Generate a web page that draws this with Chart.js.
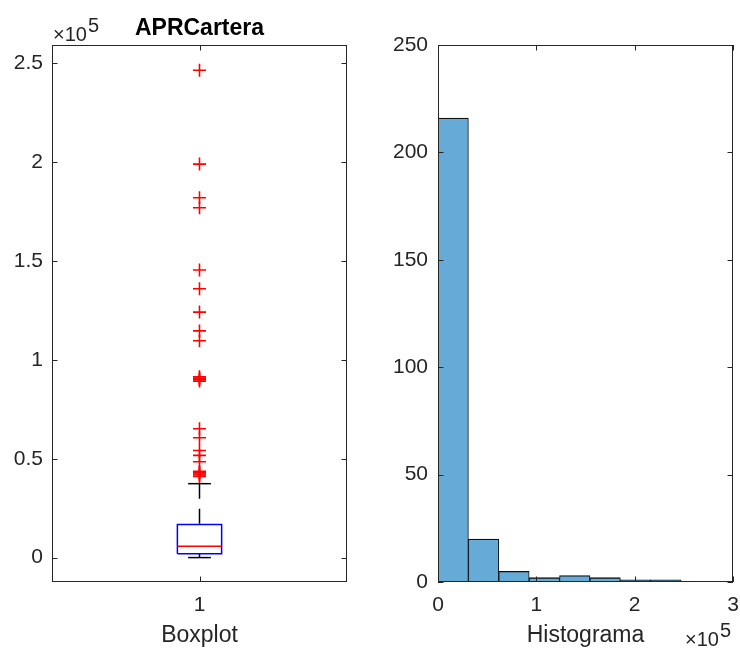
<!DOCTYPE html>
<html>
<head>
<meta charset="utf-8">
<title>APRCartera</title>
<script src="https://cdn.jsdelivr.net/npm/chart.js@4.4.1/dist/chart.umd.min.js"></script>
<style>
  body { margin: 0; background: #fff; }
  #wrap { position: relative; width: 740px; height: 649px; }
  .pane { position: absolute; top: 0; width: 370px; height: 649px; }
</style>
</head>
<body>
<div id="wrap">
  <div class="pane" style="left:0"><canvas id="boxChart" width="370" height="649"></canvas></div>
  <div class="pane" style="left:370px"><canvas id="histChart" width="370" height="649"></canvas></div>
</div>
<script>
// APRCartera boxplot summary
const boxPosition = 1;
const boxQuartiles = [1900, 5700, 16800];   // Q1, median, Q3
const boxWhiskers = [0, 37400];            // lower, upper whisker ends
const boxOutliers = [
  41000, 41800, 42300, 42900, 43600, 48500, 51700, 54200, 60600, 65200,
  89300, 90000, 90800, 91500, 109700, 114700, 124200, 136000, 145500,
  177000, 182100, 199100, 246600
];

// APRCartera histogram
const binEdges = [0, 30900, 61800, 92700, 123600, 154500, 185400, 216300, 247200];
const binCounts = [216, 20, 5, 2, 3, 2, 1, 1];

// axis ticks
const boxYTicks = [0, 50000, 100000, 150000, 200000, 250000];
const histYTicks = [0, 50, 100, 150, 200, 250];
const histXTicks = [0, 100000, 200000, 300000];

const FONT = '"Liberation Sans", Arial, Helvetica, sans-serif';
const INK = '#262626';
const tickFont = { family: FONT, size: 21 };
const labelFont = { family: FONT, size: 23 };

const boxHalfWidth = 0.075;
const capHalfWidth = 0.0385;

// MATLAB-style frame: box around the axes, ticks pointing inward on all four sides,
// and the "x10^5" exponent label
const axesFrame = {
  id: 'axesFrame',
  afterDatasetsDraw(chart, args, opts) {
    const { ctx, chartArea: a, scales } = chart;
    const t = 5.5;
    ctx.save();
    ctx.strokeStyle = INK;
    ctx.lineWidth = 1;
    ctx.beginPath();
    scales.x.ticks.forEach(tk => {
      const px = Math.round(scales.x.getPixelForValue(tk.value)) + 0.5;
      ctx.moveTo(px, a.bottom); ctx.lineTo(px, a.bottom - t);
      ctx.moveTo(px, a.top); ctx.lineTo(px, a.top + t);
    });
    scales.y.ticks.forEach(tk => {
      const py = Math.round(scales.y.getPixelForValue(tk.value)) + 0.5;
      ctx.moveTo(a.left, py); ctx.lineTo(a.left + t, py);
      ctx.moveTo(a.right, py); ctx.lineTo(a.right - t, py);
    });
    ctx.stroke();
    ctx.strokeRect(a.left + 0.5, a.top + 0.5, a.width - 1, a.height - 1);

    if (opts.exponent) {
      ctx.fillStyle = INK;
      ctx.textBaseline = 'alphabetic';
      ctx.textAlign = 'left';
      ctx.font = '20px ' + FONT;
      const top = opts.exponent === 'top';
      const base = top ? a.top - 4 : chart.height - 3;
      const w10 = ctx.measureText('\u00d710').width;
      const w5 = ctx.measureText('5').width;
      const x = top ? a.left + 1 : a.right - 3 - w10 - w5;
      ctx.fillText('\u00d710', x, base);
      ctx.fillText('5', x + w10 + 1, base - 9);
    }
    ctx.restore();
  }
};

function line(points, color, extra) {
  return Object.assign({
    type: 'scatter',
    data: points,
    showLine: true,
    borderColor: color,
    borderWidth: 1.5,
    pointRadius: 0,
    fill: false
  }, extra || {});
}

// keep the plot box exactly where the axis widths put it
function noEdgePadding(s) {
  s.paddingLeft = 0;
  s.paddingRight = 0;
}

const [q1, med, q3] = boxQuartiles;
const [wLo, wHi] = boxWhiskers;
const L = boxPosition - boxHalfWidth, R = boxPosition + boxHalfWidth;

new Chart(document.getElementById('boxChart'), {
  type: 'scatter',
  data: {
    datasets: [
      {
        label: 'outliers',
        data: boxOutliers.map(v => ({ x: boxPosition, y: v })),
        pointStyle: 'cross',
        pointRadius: 6.5,
        borderColor: '#ff0000',
        borderWidth: 1.6
      },
      line([{ x: L, y: med }, { x: R, y: med }], '#ff0000'),
      line([{ x: L, y: q1 }, { x: R, y: q1 }, { x: R, y: q3 }, { x: L, y: q3 }, { x: L, y: q1 }], '#0000ff'),
      line([{ x: boxPosition, y: wHi }, { x: boxPosition, y: q3 }], '#000', { borderDash: [15, 10] }),
      line([{ x: boxPosition, y: wLo }, { x: boxPosition, y: q1 }], '#000', { borderDash: [15, 10] }),
      line([{ x: boxPosition - capHalfWidth, y: wHi }, { x: boxPosition + capHalfWidth, y: wHi }], '#000'),
      line([{ x: boxPosition - capHalfWidth, y: wLo }, { x: boxPosition + capHalfWidth, y: wLo }], '#000')
    ]
  },
  options: {
    responsive: false,
    animation: false,
    events: [],
    layout: { padding: { left: 0, right: 23, top: 0, bottom: 0 } },
    plugins: {
      legend: { display: false },
      tooltip: { enabled: false },
      title: {
        display: true,
        text: 'APRCartera',
        fullSize: false,
        color: '#000',
        font: { family: FONT, size: 23, weight: 'bold' },
        padding: { top: 15, bottom: 2.4 }
      },
      axesFrame: { exponent: 'top' }
    },
    scales: {
      x: {
        type: 'linear',
        min: 0.5,
        max: 1.5,
        afterBuildTicks: s => { s.ticks = [{ value: boxPosition }]; },
        afterFit: s => { s.height = 67; noEdgePadding(s); },
        grid: { display: false, drawTicks: false },
        border: { display: false },
        ticks: { padding: 11, color: INK, font: tickFont },
        title: { display: true, text: 'Boxplot', color: INK, font: labelFont, padding: { top: 0, bottom: 0 } }
      },
      y: {
        type: 'linear',
        min: -12350,
        max: 259350,
        afterBuildTicks: s => { s.ticks = boxYTicks.map(v => ({ value: v })); },
        afterFit: s => { s.width = 52; },
        grid: { display: false, drawTicks: false },
        border: { display: false },
        ticks: { padding: 9, color: INK, font: tickFont, callback: v => String(v / 1e5) }
      }
    }
  },
  plugins: [axesFrame]
});

new Chart(document.getElementById('histChart'), {
  type: 'bar',
  data: {
    datasets: [{
      label: 'Histograma',
      data: binCounts.map((c, i) => ({ x: (binEdges[i] + binEdges[i + 1]) / 2, y: c })),
      backgroundColor: 'rgb(102,170,215)',
      borderColor: '#111',
      borderWidth: { top: 1.3, left: 1, bottom: 0, right: 1 },
      borderSkipped: false,
      barPercentage: 1,
      categoryPercentage: 1
    }]
  },
  options: {
    responsive: false,
    animation: false,
    events: [],
    layout: { padding: { left: 0, right: 7, top: 45, bottom: 0 } },
    plugins: {
      legend: { display: false },
      tooltip: { enabled: false },
      axesFrame: { exponent: 'bottom' }
    },
    scales: {
      x: {
        type: 'linear',
        offset: false,
        min: 0,
        max: 300000,
        afterBuildTicks: s => { s.ticks = histXTicks.map(v => ({ value: v })); },
        afterFit: s => { s.height = 67; noEdgePadding(s); },
        grid: { display: false, drawTicks: false },
        border: { display: false },
        ticks: { padding: 11, color: INK, font: tickFont, callback: v => String(v / 1e5) },
        title: { display: true, text: 'Histograma', color: INK, font: labelFont, padding: { top: 0, bottom: 0 } }
      },
      y: {
        min: 0,
        max: 250,
        afterBuildTicks: s => { s.ticks = histYTicks.map(v => ({ value: v })); },
        afterFit: s => { s.width = 68; },
        grid: { display: false, drawTicks: false },
        border: { display: false },
        ticks: { padding: 10, color: INK, font: tickFont }
      }
    }
  },
  plugins: [axesFrame]
});
</script>
</body>
</html>
